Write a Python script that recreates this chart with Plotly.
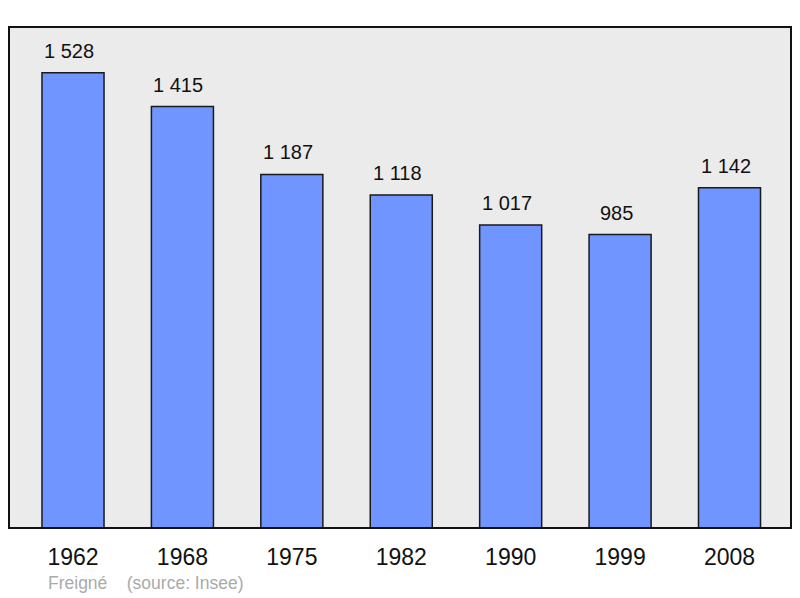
import plotly.graph_objects as go

years = ["1962", "1968", "1975", "1982", "1990", "1999", "2008"]
population = [1528, 1415, 1187, 1118, 1017, 985, 1142]
labels = ["1 528", "1 415", "1 187", "1 118", "1 017", "985", "1 142"]

xs = list(range(len(years)))
FONT = "Liberation Sans, Arial"

fig = go.Figure()
fig.add_trace(go.Bar(
    x=xs, y=population, width=0.567,
    marker=dict(color="#7095ff", line=dict(color="#1a1a1a", width=1.5)),
    hoverinfo="skip",
))

for x, v, t in zip(xs, population, labels):
    fig.add_annotation(x=x, y=v, text=t, showarrow=False, yanchor="bottom",
                       yshift=9, xshift=-4, font=dict(size=20, color="#111111", family=FONT))

fig.add_shape(type="rect", xref="paper", yref="paper", x0=0, y0=0, x1=1, y1=1,
              line=dict(color="#111111", width=2), layer="above")

fig.add_annotation(xref="paper", yref="paper", x=(46 - 9) / 782, y=-(583 - 528) / 501,
                   xanchor="left", yanchor="middle", showarrow=False,
                   text="Freigné&nbsp;&nbsp;&nbsp;&nbsp;(source: Insee)",
                   font=dict(size=17.5, color="#aaaaaa", family=FONT))

fig.update_layout(
    width=792, height=590,
    margin=dict(l=1, r=9, t=19, b=70),
    paper_bgcolor="white", plot_bgcolor="#ebebeb",
    showlegend=False,
    xaxis=dict(range=[-0.585, 6.562], tickmode="array", tickvals=xs, ticktext=years,
               showgrid=False, zeroline=False, showline=False,
               ticks="outside", ticklen=8, tickcolor="rgba(0,0,0,0)",
               tickfont=dict(size=23, color="#111111", family=FONT)),
    yaxis=dict(range=[0, 1682], visible=False, showgrid=False, zeroline=False),
)

fig.write_html("out.html")
